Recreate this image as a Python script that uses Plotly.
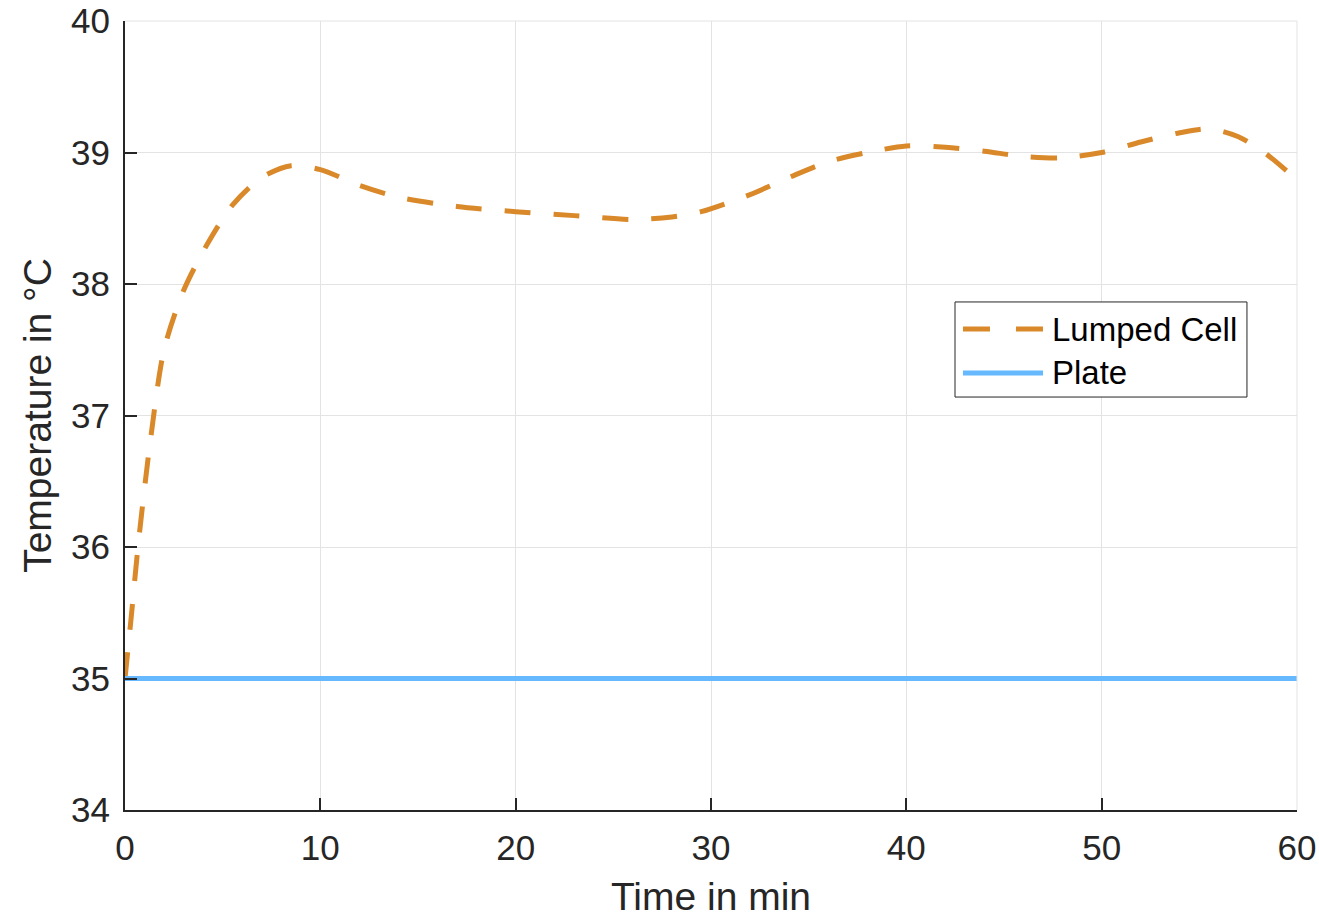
import plotly.graph_objects as go

# Simulation output sampled over one hour
time_min = [0, 0.3, 0.7, 1.3, 2.0, 3.0, 4.2, 5.5, 7.0, 8.5, 10, 12, 14, 17, 20, 23, 26, 28,
            29.5, 32, 34, 36, 38, 40, 42, 44, 46, 48, 50, 52, 54, 55.5, 57, 58.5, 60]
lumped_cell = [35.0, 35.44, 36.05, 36.81, 37.5, 37.95, 38.30, 38.6, 38.81, 38.90, 38.87,
               38.75, 38.66, 38.59, 38.55, 38.52, 38.49, 38.51, 38.55, 38.68, 38.81, 38.93,
               39.0, 39.05, 39.04, 39.01, 38.97, 38.96, 39.0, 39.08, 39.15, 39.18, 39.12,
               38.98, 38.79]
plate_time = [0, 60]
plate_temp = [35.0, 35.0]

x_ticks = [0, 10, 20, 30, 40, 50, 60]
y_ticks = [34, 35, 36, 37, 38, 39, 40]
series_names = ["Lumped Cell", "Plate"]

font_family = "Liberation Sans, Arial, sans-serif"
text_color = "#262626"
cell_color = "#D9892A"
plate_color = "#66B9FF"
cell_dash = "26px,23px"

fig = go.Figure()
fig.add_trace(go.Scatter(
    x=time_min, y=lumped_cell, mode="lines", name=series_names[0], showlegend=False,
    line=dict(color=cell_color, width=5, dash=cell_dash, shape="spline", smoothing=0.8),
))
fig.add_trace(go.Scatter(
    x=plate_time, y=plate_temp, mode="lines", name=series_names[1], showlegend=False,
    line=dict(color=plate_color, width=5),
))

axis_common = dict(
    showgrid=True, gridcolor="#E3E3E3", gridwidth=1,
    ticks="inside", ticklen=12, tickwidth=2, tickcolor=text_color,
    showline=True, linecolor=text_color, linewidth=2,
    tickfont=dict(family=font_family, size=35, color=text_color),
    zeroline=False, mirror=False, automargin=False,
)

fig.update_xaxes(range=[0, 60], tickvals=x_ticks,
                 title=dict(text="Time in min", font=dict(family=font_family, size=39, color=text_color),
                            standoff=20),
                 ticklabelstandoff=6, **axis_common)
fig.update_yaxes(range=[34, 40], tickvals=y_ticks,
                 title=dict(text="Temperature in °C", font=dict(family=font_family, size=39, color=text_color),
                            standoff=7),
                 ticklabelstandoff=6, **axis_common)

# Grey frame on the top and right edges
fig.add_shape(type="line", xref="paper", yref="paper", x0=0, x1=1, y0=1, y1=1,
              line=dict(color="#E3E3E3", width=1))
fig.add_shape(type="line", xref="paper", yref="paper", x0=1, x1=1, y0=0, y1=1,
              line=dict(color="#E3E3E3", width=1))

# Legend box with long line samples
lg_x0, lg_x1, lg_y0, lg_y1 = 0.7082, 0.9573, 0.5234, 0.6439
sample_x0, sample_x1, label_x = 0.715, 0.7833, 0.789
row_y = [0.6096, 0.5539]
fig.add_shape(type="rect", xref="paper", yref="paper", x0=lg_x0, x1=lg_x1, y0=lg_y0, y1=lg_y1,
              line=dict(color=text_color, width=1), fillcolor="white", layer="above")
fig.add_shape(type="line", xref="paper", yref="paper", x0=sample_x0, x1=sample_x1,
              y0=row_y[0], y1=row_y[0], line=dict(color=cell_color, width=5, dash="27px,26px"),
              layer="above")
fig.add_shape(type="line", xref="paper", yref="paper", x0=sample_x0, x1=sample_x1,
              y0=row_y[1], y1=row_y[1], line=dict(color=plate_color, width=5), layer="above")
for name, yy in zip(series_names, row_y):
    fig.add_annotation(xref="paper", yref="paper", x=label_x, y=yy, text=name, showarrow=False,
                       xanchor="left", yanchor="middle",
                       font=dict(family=font_family, size=33, color="black"))

fig.update_layout(
    width=1319, height=918,
    margin=dict(l=125, r=22, t=21, b=108),
    plot_bgcolor="white", paper_bgcolor="white",
    font=dict(family=font_family, color=text_color),
    showlegend=False,
)

fig.write_html("out.html")
